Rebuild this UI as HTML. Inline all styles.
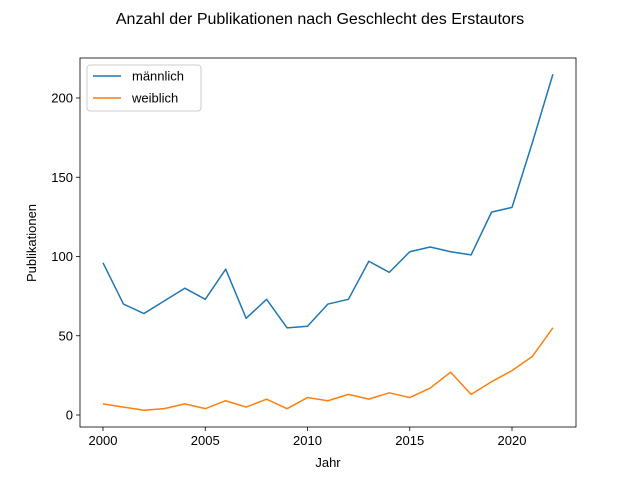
<!DOCTYPE html>
<html><head><meta charset="utf-8"><style>
body{margin:0;background:#fff;}
svg text{font-family:"Liberation Sans","DejaVu Sans",sans-serif;fill:#000;}
</style></head><body>
<svg id="chart" width="640" height="480" viewBox="0 0 640 480">
<rect width="640" height="480" fill="#fff"/>
<text x="320" y="24" font-size="16" text-anchor="middle">Anzahl der Publikationen nach Geschlecht des Erstautors</text>
<g id="plot"></g>
<text x="328" y="467" font-size="13" text-anchor="middle">Jahr</text>
<text x="0" y="0" font-size="13" text-anchor="middle" transform="translate(36,243) rotate(-90)">Publikationen</text>
</svg>
<script>
const years=[2000,2001,2002,2003,2004,2005,2006,2007,2008,2009,2010,2011,2012,2013,2014,2015,2016,2017,2018,2019,2020,2021,2022];
const male=[96,70,64,72,80,73,92,61,73,55,56,70,73,97,90,103,106,103,101,128,131,172,215];
const female=[7,5,3,4,7,4,9,5,10,4,11,9,13,10,14,11,17,27,13,21,28,37,55];
const xTicks=[2000,2005,2010,2015,2020];
const yTicks=[0,50,100,150,200];
const seriesNames=["männlich","weiblich"];
const L=80,R=576,T=58,B=427;
const x=v=>103+(v-2000)*(512-103)/20;
const y=v=>415-v*(415-98)/200;
const NS="http://www.w3.org/2000/svg";
const g=document.getElementById('plot');
function mk(t,a){const e=document.createElementNS(NS,t);for(const k in a)e.setAttribute(k,a[k]);g.appendChild(e);return e;}
xTicks.forEach(v=>{
 const l=mk('line',{x1:x(v),x2:x(v),y1:B,y2:B+4,stroke:'#000','stroke-width':0.8});
 
 
 const t=mk('text',{x:x(v),y:B+18,'font-size':13,'text-anchor':'middle'});t.textContent=v;
 
 
});
yTicks.forEach(v=>{
 const l=mk('line',{x1:L-4,x2:L,y1:y(v),y2:y(v),stroke:'#000','stroke-width':0.8});
 
 
 const t=mk('text',{x:L-7,y:y(v)+4.5,'font-size':13,'text-anchor':'end'});t.textContent=v;
 
 
});
[[male,'#1f77b4','line-maennlich'],[female,'#ff7f0e','line-weiblich']].forEach(([d,c,n])=>{
 const p=mk('polyline',{points:d.map((v,i)=>x(years[i])+','+y(v)).join(' '),fill:'none',stroke:c,'stroke-width':1.5,'stroke-linejoin':'round'});
 
 
});
const f=mk('rect',{x:L,y:T,width:R-L,height:B-T,fill:'none',stroke:'#000','stroke-width':0.8});


const lg=mk('rect',{x:87,y:65,width:114,height:46,rx:3,fill:'#fff',stroke:'#ccc','stroke-width':1});


['#1f77b4','#ff7f0e'].forEach((c,i)=>{
 const yy=76+i*22;
 const l=mk('line',{x1:93,x2:121,y1:yy,y2:yy,stroke:c,'stroke-width':1.5});
 
 
 const t=mk('text',{x:132,y:yy+4.5,'font-size':13});t.textContent=seriesNames[i];
 
 
});
</script>
</body></html>
